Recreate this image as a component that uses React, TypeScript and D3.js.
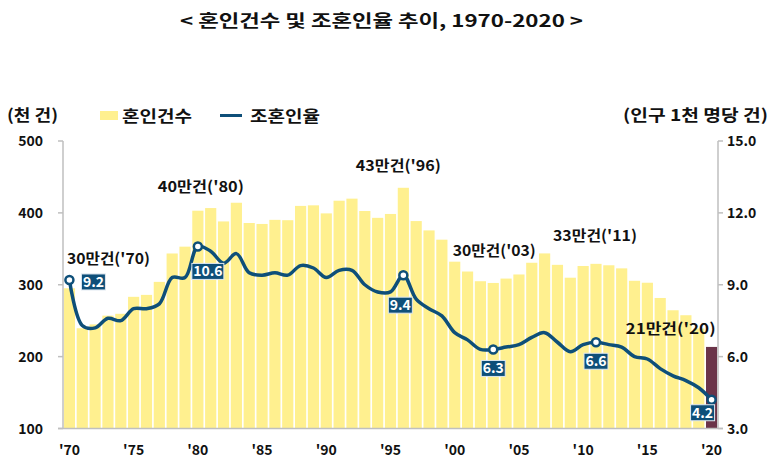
import React from "react";
import * as d3 from "d3";

const years = d3.range(1970, 2021);
const marriages = [
  295.1, 239.5, 244.8, 257.0, 259.6, 283.2, 285.9, 304.0, 343.5, 353.0,
  403.0, 406.7, 388.1, 414.1, 385.9, 384.6, 390.3, 389.8, 409.7, 410.5,
  399.3, 416.9, 419.8, 402.6, 393.1, 398.5, 434.9, 388.6, 375.6, 362.7,
  332.1, 318.4, 304.9, 302.5, 308.6, 314.3, 330.6, 343.6, 327.7, 309.8,
  326.1, 329.1, 327.1, 322.8, 305.5, 302.8, 281.6, 264.5, 257.6, 239.2,
  213.5,
];
const rates = [
  9.2, 7.3, 7.2, 7.6, 7.5, 8.0, 8.0, 8.2, 9.3, 9.3,
  10.6, 10.4, 9.9, 10.3, 9.5, 9.4, 9.5, 9.4, 9.8, 9.7,
  9.3, 9.6, 9.6, 9.0, 8.7, 8.7, 9.4, 8.4, 8.0, 7.7,
  7.0, 6.7, 6.3, 6.3, 6.4, 6.5, 6.8, 7.0, 6.6, 6.2,
  6.5, 6.6, 6.5, 6.4, 6.0, 5.9, 5.5, 5.2, 5.0, 4.7,
  4.2,
];
const leftTicks = [100, 200, 300, 400, 500];
const rightTicks = [3, 6, 9, 12, 15];
const xTickYears = [1970, 1975, 1980, 1985, 1990, 1995, 2000, 2005, 2010, 2015, 2020];

const countLabels = [
  { year: 1970, text: "30만건('70)", dx: 39, y: 264, anchor: "middle", len: 83 },
  { year: 1980, text: "40만건('80)", dx: 3, y: 192, anchor: "middle", len: 86 },
  { year: 1996, text: "43만건('96)", dx: -5, y: 171, anchor: "middle", len: 85 },
  { year: 2003, text: "30만건('03)", dx: 1, y: 256, anchor: "middle", len: 83 },
  { year: 2011, text: "33만건('11)", dx: -1, y: 241, anchor: "middle", len: 84 },
  { year: 2020, text: "21만건('20)", dx: 4, y: 334, anchor: "end", len: 90 },
];
const rateLabels = [
  { year: 1970, dx: 24, dy: 2 },
  { year: 1980, dx: 10, dy: 25 },
  { year: 1996, dx: -3, dy: 30 },
  { year: 2003, dx: 0, dy: 19 },
  { year: 2011, dx: 0, dy: 19 },
  { year: 2020, dx: -9, dy: 13 },
];

const FONT = "'Noto Sans CJK KR', 'Noto Sans', sans-serif";
const LINE = "#0e4f79";
const BAR = "#fff08f";
const LAST = "#6b3449";
const AXIS = "#bfbfbf";

export default function App() {
  const W = 776, H = 467;
  const left = 63, right = 718, top = 141, bottom = 428.5;

  const x = d3.scaleBand<number>().domain(years).range([left, right]).paddingInner(0.13).paddingOuter(0.065);
  const yL = d3.scaleLinear().domain([100, 500]).range([bottom, top]);
  const yR = d3.scaleLinear().domain([3, 15]).range([bottom, top]);
  const cx = (yr: number) => (x(yr) as number) + x.bandwidth() / 2;

  const line = d3
    .line<number>()
    .x((_, i) => cx(years[i]))
    .y((d) => yR(d))
    .curve(d3.curveCatmullRom.alpha(0.5));

  return (
    <svg width={W} height={H} style={{ display: "block", position: "absolute", left: 0, top: 0, background: "#fff" }}>
      <text x={180} y={27} textLength={403} lengthAdjust="spacingAndGlyphs" fontFamily={FONT} fontWeight={700} fontSize={17} fill="#111">
        {"< 혼인건수 및 조혼인율 추이, 1970-2020 >"}
      </text>

      <text x={7} y={121} textLength={51} lengthAdjust="spacingAndGlyphs" fontFamily={FONT} fontWeight={700} fontSize={16} fill="#111">(천 건)</text>
      <text x={623} y={121} textLength={145} lengthAdjust="spacingAndGlyphs" fontFamily={FONT} fontWeight={700} fontSize={16} fill="#111">(인구 1천 명당 건)</text>

      <rect x={100} y={111} width={18} height={9} fill={BAR} />
      <text x={122} y={122} textLength={70} lengthAdjust="spacingAndGlyphs" fontFamily={FONT} fontWeight={700} fontSize={16} fill="#111">혼인건수</text>
      <line x1={220} x2={242} y1={115.5} y2={115.5} stroke={LINE} strokeWidth={3} />
      <text x={250} y={122} textLength={70} lengthAdjust="spacingAndGlyphs" fontFamily={FONT} fontWeight={700} fontSize={16} fill="#111">조혼인율</text>

      {years.map((yr, i) => (
        <rect
          key={yr}
          x={x(yr)}
          y={yL(marriages[i])}
          width={x.bandwidth()}
          height={bottom - yL(marriages[i])}
          fill={yr === 2020 ? LAST : BAR}
        />
      ))}

      <line x1={left} x2={left} y1={top} y2={bottom} stroke={AXIS} strokeWidth={1.5} />
      <line x1={right} x2={right} y1={top} y2={bottom} stroke={AXIS} strokeWidth={1.5} />
      <line x1={left - 5} x2={right + 5} y1={bottom} y2={bottom} stroke={AXIS} strokeWidth={1.5} />
      {leftTicks.map((t) => (
        <g key={"l" + t}>
          <line x1={left - 5} x2={left} y1={yL(t)} y2={yL(t)} stroke={AXIS} strokeWidth={1.5} />
          <text x={43} y={yL(t) + 5} textAnchor="end" fontFamily={FONT} fontWeight={700} fontSize={14} fill="#111">{t}</text>
        </g>
      ))}
      {rightTicks.map((t) => (
        <g key={"r" + t}>
          <line x1={right} x2={right + 5} y1={yR(t)} y2={yR(t)} stroke={AXIS} strokeWidth={1.5} />
          <text x={727} y={yR(t) + 5} fontFamily={FONT} fontWeight={700} fontSize={14} fill="#111">{t.toFixed(1)}</text>
        </g>
      ))}
      {xTickYears.map((yr) => (
        <text key={yr} x={cx(yr)} y={455} textAnchor="middle" fontFamily={FONT} fontWeight={700} fontSize={14} fill="#111">
          {"'" + String(yr).slice(2)}
        </text>
      ))}

      <path d={line(rates) || ""} fill="none" stroke={LINE} strokeWidth={3.5} strokeLinejoin="round" />

      {rateLabels.map((l) => {
        const i = years.indexOf(l.year);
        const px = cx(l.year);
        const py = yR(rates[i]);
        return (
          <circle key={"m" + l.year} cx={px} cy={py} r={4} fill="#fff" stroke={LINE} strokeWidth={2.5} />
        );
      })}

      {rateLabels.map((l) => {
        const i = years.indexOf(l.year);
        const px = cx(l.year) + l.dx;
        const py = yR(rates[i]) + l.dy;
        const txt = rates[i].toFixed(1);
        const w = txt.length > 3 ? 32 : 24;
        return (
          <g key={"b" + l.year}>
            <rect x={px - w / 2} y={py - 8} width={w} height={16} fill={LINE} stroke="#dfe8ef" strokeWidth={1} />
            <text x={px} y={py + 5} textAnchor="middle" fontFamily={FONT} fontWeight={700} fontSize={14} fill="#fff">{txt}</text>
          </g>
        );
      })}

      {countLabels.map((l) => (
        <text
          key={"c" + l.year}
          x={cx(l.year) + l.dx}
          y={l.y}
          textAnchor={l.anchor}
          textLength={l.len}
          lengthAdjust="spacingAndGlyphs"
          fontFamily={FONT}
          fontWeight={700}
          fontSize={15}
          fill="#111"
        >
          {l.text}
        </text>
      ))}
    </svg>
  );
}
